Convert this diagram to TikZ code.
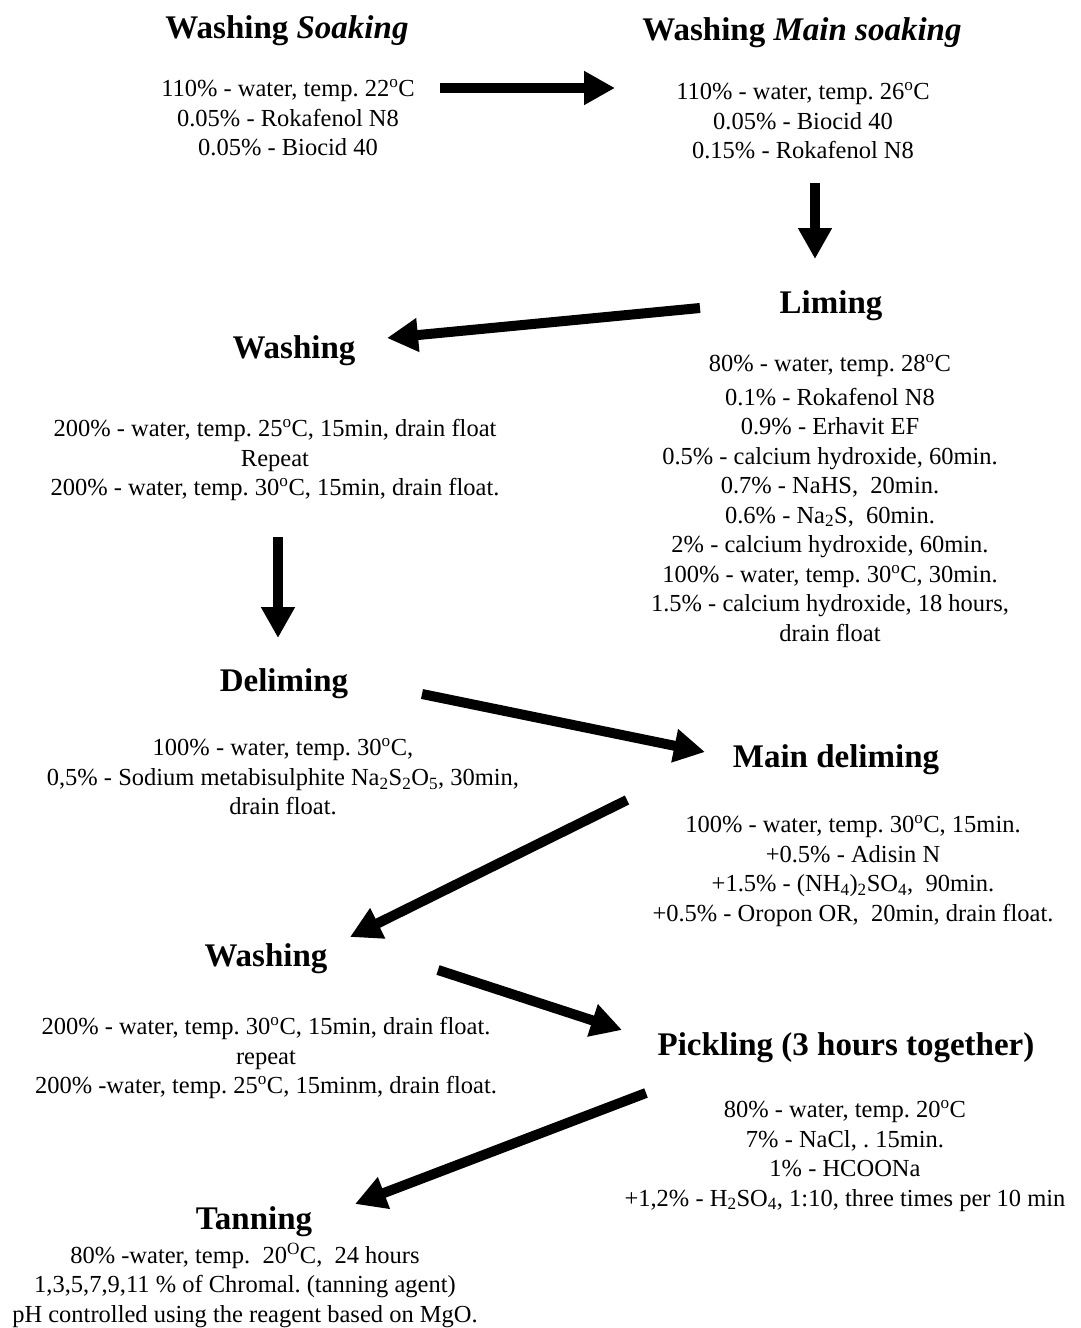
\documentclass[tikz,border=0pt]{standalone}
\usepackage{fontspec}
\setmainfont{Liberation Serif}
\usetikzlibrary{arrows.meta}
\frenchspacing

\begin{document}
\begin{tikzpicture}[x=1pt,y=-1pt,
  title/.style={anchor=base,inner sep=0pt,font=\fontsize{33}{40}\selectfont\bfseries},
  recipe/.style={anchor=center,inner sep=0pt,align=center,font=\fontsize{24.5}{29.5}\selectfont},
  flow/.style={line width=10pt,-{Triangle[length=31pt,width=32pt]}}]
\useasboundingbox (0,0) rectangle (1081,1328);

% process stages: titles and recipes
\node[title] (t1) at (287,38) {Washing \textit{Soaking}};
\node[recipe] (b1) at (288,118) {110\% - water, temp. 22\textsuperscript{o}C\\0.05\% - Rokafenol N8\\0.05\% - Biocid 40};

\node[title] (t2) at (802,40) {Washing \textit{Main soaking}};
\node[recipe] (b2) at (803,121) {110\% - water, temp. 26\textsuperscript{o}C\\0.05\% - Biocid 40\\0.15\% - Rokafenol N8};

\node[title] (t3) at (831,313) {Liming};
\node[recipe] (b3) at (830,498) {80\% - water, temp. 28\textsuperscript{o}C\\[4pt]0.1\% - Rokafenol N8\\0.9\% - Erhavit EF\\0.5\% - calcium hydroxide, 60min.\\0.7\% - NaHS,\ \ 20min.\\0.6\% - Na\textsubscript{2}S,\ \ 60min.\\2\% - calcium hydroxide, 60min.\\100\% - water, temp. 30\textsuperscript{o}C, 30min.\\1.5\% - calcium hydroxide, 18 hours,\\drain float};

\node[title] (t4) at (294,358) {Washing};
\node[recipe] (b4) at (275,460) {200\% - water, temp. 25\textsuperscript{o}C, 15min, drain float\\Repeat\\200\% - water, temp. 30\textsuperscript{o}C, 15min, drain float.};

\node[title] (t5) at (284,691) {Deliming};
\node[recipe] (b5) at (283,777) {100\% - water, temp. 30\textsuperscript{o}C,\\0,5\% - Sodium metabisulphite Na\textsubscript{2}S\textsubscript{2}O\textsubscript{5}, 30min,\\drain float.};

\node[title] (t6) at (836,767) {Main deliming};
\node[recipe] (b6) at (853,871) {100\% - water, temp. 30\textsuperscript{o}C, 15min.\\+0.5\% - Adisin N\\+1.5\% - (NH\textsubscript{4})\textsubscript{2}SO\textsubscript{4},\ \ 90min.\\+0.5\% - Oropon OR,\ \ 20min, drain float.};

\node[title] (t7) at (266,966) {Washing};
\node[recipe] (b7) at (266,1058) {200\% - water, temp. 30\textsuperscript{o}C, 15min, drain float.\\repeat\\200\% -water, temp. 25\textsuperscript{o}C, 15minm, drain float.};

\node[title] (t8) at (846,1055) {Pickling (3 hours together)};
\node[recipe] (b8) at (845,1156) {80\% - water, temp. 20\textsuperscript{o}C\\7\% - NaCl, . 15min.\\1\% - HCOONa\\+1,2\% - H\textsubscript{2}SO\textsubscript{4}, 1:10, three times per 10 min};

\node[title] (t9) at (254,1229) {Tanning};
\node[recipe] (b9) at (245,1285) {80\% -water, temp.\ \ 20\textsuperscript{O}C,\ \ 24 hours\\1,3,5,7,9,11 \% of Chromal. (tanning agent)\\pH controlled using the reagent based on MgO.};

% arrow end points
\coordinate (a1s) at (440,88);  \coordinate (a1e) at (615,88);
\coordinate (a2s) at (815,183); \coordinate (a2e) at (815,259);
\coordinate (a3s) at (700,308); \coordinate (a3e) at (387,338);
\coordinate (a4s) at (278,537); \coordinate (a4e) at (278,638);
\coordinate (a5s) at (422,694); \coordinate (a5e) at (705,752);
\coordinate (a6s) at (627,800); \coordinate (a6e) at (350,937);
\coordinate (a7s) at (438,970); \coordinate (a7e) at (622,1030);
\coordinate (a8s) at (646,1093);\coordinate (a8e) at (355,1204);

% flow arrows
\draw[flow] (a1s) -- (a1e);
\draw[flow] (a2s) -- (a2e);
\draw[flow] (a3s) -- (a3e);
\draw[flow] (a4s) -- (a4e);
\draw[flow] (a5s) -- (a5e);
\draw[flow] (a6s) -- (a6e);
\draw[flow] (a7s) -- (a7e);
\draw[flow] (a8s) -- (a8e);
\end{tikzpicture}
\end{document}
